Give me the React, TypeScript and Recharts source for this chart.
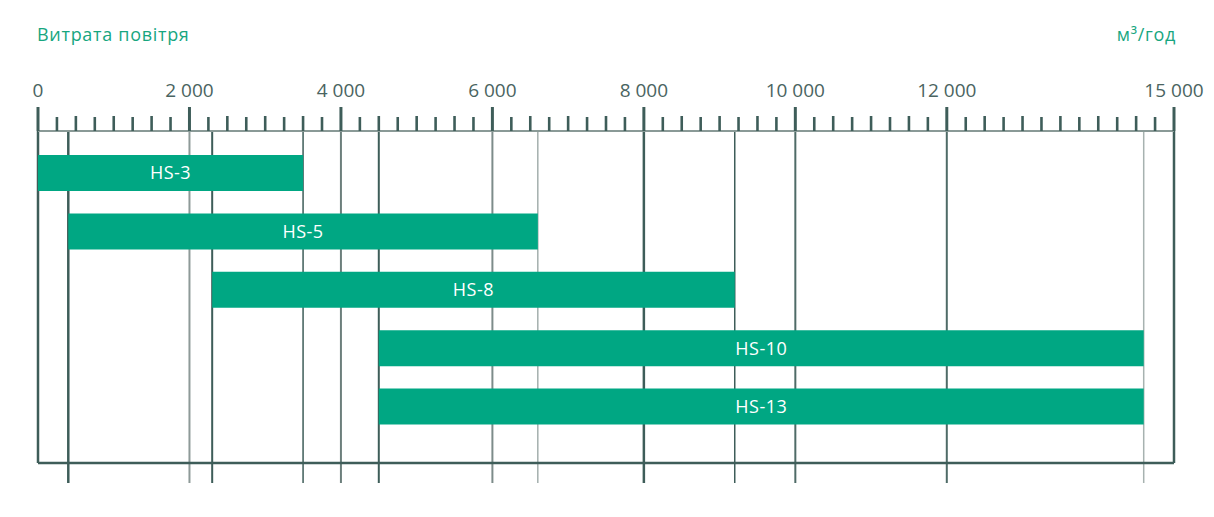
import React from "react";
import { BarChart, Bar, XAxis, YAxis, ReferenceLine, LabelList } from "recharts";

const TITLE = "Витрата повітря";
const UNIT = "м³/год";

const models = ["HS-3", "HS-5", "HS-8", "HS-10", "HS-13"];
const flowMin = [0, 400, 2300, 4500, 4500];
const flowMax = [3500, 6600, 9200, 14600, 14600];

const labelTicks = [0, 2000, 4000, 6000, 8000, 10000, 12000, 15000];
const edgeLines = [400, 2300, 3500, 4500, 6600, 9200, 14600];
const DOMAIN_MAX = 15000;
const MINOR_STEP = 250;

const W = 1214;
const H = 517;
const M = { top: 130, left: 38, right: 40, bottom: 53 };

const DARK = "#3e5d59";
const GREEN = "#00a783";
const TEXT = "#4a6461";
const FONT = "'Open Sans', sans-serif";

const lineStyle: Record<number, { stroke: string; w: number }> = {
  400: { stroke: DARK, w: 2.5 },
  2000: { stroke: "#8e9a98", w: 2 },
  2300: { stroke: DARK, w: 2 },
  3500: { stroke: DARK, w: 1.5 },
  4000: { stroke: "#6c7f7c", w: 2 },
  4500: { stroke: DARK, w: 2 },
  6000: { stroke: "#7d8c8a", w: 2 },
  6600: { stroke: "#8d9b99", w: 1.2 },
  8000: { stroke: DARK, w: 2.5 },
  9200: { stroke: DARK, w: 1.5 },
  10000: { stroke: "#4f6b67", w: 2 },
  12000: { stroke: "#4f6b67", w: 2 },
  14600: { stroke: "#a7b2b0", w: 1.5 },
};

const data = models.map((name, i) => ({ name, range: [flowMin[i], flowMax[i]] }));

const minorTicks: number[] = [];
for (let v = 0; v <= DOMAIN_MAX; v += MINOR_STEP) minorTicks.push(v);

const fmt = (v: number) => String(v).replace(/\B(?=(\d{3})+(?!\d))/g, " ");

const TopTick = (props: any) => {
  const { x, y, payload } = props;
  const v = payload.value as number;
  const isMajor = labelTicks.includes(v);
  const len = isMajor ? 24 : v % 500 === 0 ? 15 : 14;
  return (
    <g>
      <line x1={x} x2={x} y1={y} y2={y - len} stroke={DARK} strokeWidth={isMajor ? 3 : 2.6} />
      {isMajor && (
        <text x={x} y={y - 34} textAnchor="middle" fill={TEXT} fontSize={19} fontFamily={FONT}>
          {fmt(v)}
        </text>
      )}
    </g>
  );
};

const makeShape = (v: number, extend: number) => (p: any) => {
  const s = lineStyle[v] || { stroke: DARK, w: 2.5 };
  const y1 = Math.min(p.y1, p.y2);
  const y2 = Math.max(p.y1, p.y2);
  return <line x1={p.x1} x2={p.x2} y1={y1} y2={y2 + extend} stroke={s.stroke} strokeWidth={s.w} />;
};

const innerLines = [...labelTicks.filter((v) => v !== 0 && v !== DOMAIN_MAX), ...edgeLines];

const headStyle: React.CSSProperties = {
  position: "absolute",
  top: 24,
  fontSize: 18,
  lineHeight: "20px",
  letterSpacing: 0.7,
  color: "#17a67f",
  fontFamily: FONT,
  whiteSpace: "nowrap",
};

export default function App() {
  return (
    <div style={{ position: "relative", width: W, height: H, margin: -8, background: "#fff" }}>
      <div style={{ ...headStyle, left: 37 }}>{TITLE}</div>
      <div style={{ ...headStyle, right: W - 1176 }}>{UNIT}</div>
      <div style={{ position: "absolute", left: 0, top: 0 }}>
        <BarChart width={W} height={H} data={data} layout="vertical" margin={M} barSize={36}>
          <XAxis
            type="number"
            orientation="top"
            domain={[0, DOMAIN_MAX]}
            ticks={minorTicks}
            interval={0}
            height={1}
            tickSize={0}
            tickMargin={0}
            tickLine={false}
            tick={<TopTick />}
            axisLine={{ stroke: "#8a9a97", strokeWidth: 2 }}
          />
          <XAxis
            xAxisId="bottom"
            type="number"
            orientation="bottom"
            domain={[0, DOMAIN_MAX]}
            height={1}
            tick={false}
            tickLine={false}
            axisLine={{ stroke: DARK, strokeWidth: 2.5 }}
          />
          <YAxis type="category" dataKey="name" hide padding={{ top: 13, bottom: 27 }} />
          {innerLines.map((v) => (
            <ReferenceLine key={v} x={v} shape={makeShape(v, 20)} zIndex={-10} />
          ))}
          <ReferenceLine x={0} shape={makeShape(0, 0)} zIndex={-10} />
          <ReferenceLine x={DOMAIN_MAX} shape={makeShape(DOMAIN_MAX, 0)} zIndex={-10} />
          <Bar dataKey="range" fill={GREEN} isAnimationActive={false}>
            <LabelList
              dataKey="name"
              position="center"
              fill="#ffffff"
              fontSize={18}
              letterSpacing={0.5}
              fontFamily={FONT}
            />
          </Bar>
        </BarChart>
      </div>
    </div>
  );
}
